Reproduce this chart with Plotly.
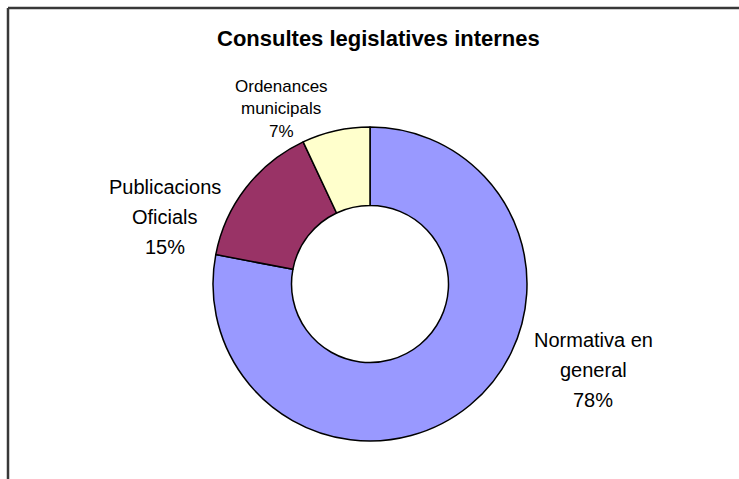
import plotly.graph_objects as go

title = "Consultes legislatives internes"
categories = ["Normativa en general", "Publicacions Oficials", "Ordenances municipals"]
label_lines = [["Normativa en", "general"], ["Publicacions", "Oficials"], ["Ordenances", "municipals"]]
values = [78, 15, 7]
colors = ["#9999FF", "#993366", "#FFFFCC"]

W, H = 739, 479
cx, cy, r = 370, 284, 157
FONT = "Liberation Sans, Arial, sans-serif"

fig = go.Figure(go.Pie(
    labels=categories,
    values=values,
    hole=0.5,
    sort=False,
    direction="clockwise",
    rotation=0,
    marker=dict(colors=colors, line=dict(color="black", width=1.5)),
    textinfo="none",
    hoverinfo="label+percent",
    showlegend=False,
    domain=dict(x=[(cx - r) / W, (cx + r) / W], y=[1 - (cy + r) / H, 1 - (cy - r) / H]),
))

# label placement: (x centre, y of first line, line spacing, font size) in pixels
placements = [(593, 340, 30, 20), (165, 187, 30, 20), (281, 86, 22.5, 17)]
annotations = []
total = sum(values)
for lines, v, (x, y, dy, fs) in zip(label_lines, values, placements):
    texts = lines + [f"{round(100 * v / total)}%"]
    for i, t in enumerate(texts):
        annotations.append(dict(
            x=x / W, y=1 - (y + i * dy) / H, xref="paper", yref="paper",
            text=t, showarrow=False, xanchor="center", yanchor="middle",
            font=dict(family=FONT, size=fs, color="black"),
        ))
annotations.append(dict(
    x=378 / W, y=1 - 38 / H, xref="paper", yref="paper",
    text=f"<b>{title}</b>", showarrow=False, xanchor="center", yanchor="middle",
    font=dict(family=FONT, size=22, color="black"),
))

fig.update_layout(
    width=W, height=H,
    margin=dict(l=0, r=0, t=0, b=0),
    paper_bgcolor="white", plot_bgcolor="white",
    annotations=annotations,
    shapes=[
        dict(type="line", xref="paper", yref="paper", x0=8 / W, x1=1, y0=1 - 8 / H, y1=1 - 8 / H,
             line=dict(color="#383838", width=2.5)),
        dict(type="line", xref="paper", yref="paper", x0=8 / W, x1=8 / W, y0=1 - 8 / H, y1=0,
             line=dict(color="#383838", width=2.5)),
    ],
)

fig.write_html("out.html", config={"displayModeBar": False},
               post_script="document.body.style.margin='0px';")
